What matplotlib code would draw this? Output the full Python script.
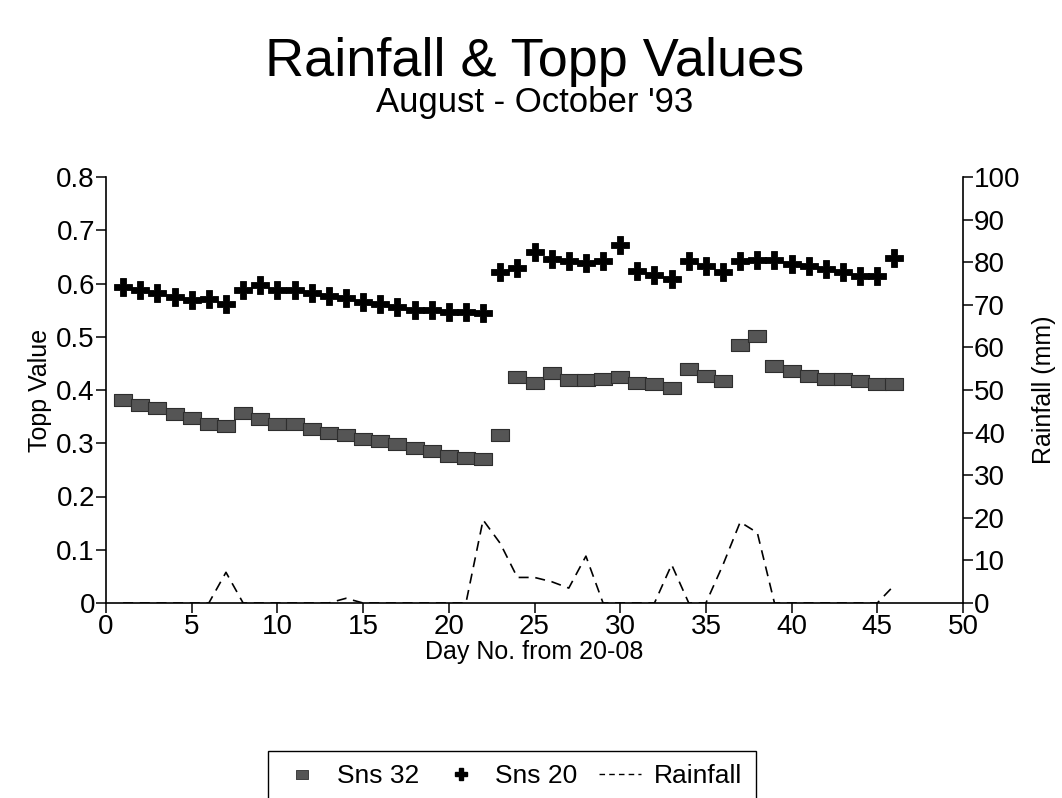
import matplotlib
matplotlib.use("Agg")
import matplotlib.pyplot as plt
from matplotlib.lines import Line2D
from matplotlib.ticker import FuncFormatter

plt.rcParams['font.family'] = ['Liberation Sans', 'DejaVu Sans']

days = list(range(1, 47))

sns32 = [0.382, 0.371, 0.367, 0.355, 0.348, 0.336, 0.333, 0.356, 0.345, 0.337,
         0.337, 0.326, 0.319, 0.315, 0.308, 0.305, 0.298, 0.291, 0.285, 0.276,
         0.273, 0.270, 0.315, 0.424, 0.414, 0.432, 0.418, 0.418, 0.421, 0.425,
         0.414, 0.411, 0.403, 0.439, 0.427, 0.417, 0.484, 0.502, 0.445, 0.435,
         0.427, 0.420, 0.420, 0.416, 0.412, 0.412]

sns20 = [0.594, 0.587, 0.583, 0.575, 0.569, 0.570, 0.561, 0.587, 0.598, 0.587,
         0.587, 0.583, 0.576, 0.573, 0.565, 0.561, 0.555, 0.551, 0.551, 0.547,
         0.547, 0.544, 0.621, 0.629, 0.660, 0.646, 0.642, 0.639, 0.643, 0.672,
         0.623, 0.616, 0.608, 0.643, 0.633, 0.621, 0.643, 0.645, 0.645, 0.636,
         0.633, 0.627, 0.621, 0.614, 0.614, 0.648]

rainfall = [0, 0, 0, 0, 0, 0, 7.2, 0, 0, 0,
            0, 0, 0, 1.1, 0, 0, 0, 0, 0, 0,
            0, 19.5, 14, 6, 6, 5, 3.5, 11, 0, 0,
            0, 0, 9, 0, 0, 9, 19, 16.5, 0, 0,
            0, 0, 0, 0, 0, 4.2]

x_ticks = list(range(0, 51, 5))
topp_ticks = [0, 0.1, 0.2, 0.3, 0.4, 0.5, 0.6, 0.7, 0.8]
rain_ticks = list(range(0, 101, 10))

W, H = 1062, 798
fig = plt.figure(figsize=(W / 100, H / 100), dpi=100)
left, right, top, bottom = 106, 963, 177, 603
ax = fig.add_axes([left / W, 1 - bottom / H, (right - left) / W, (bottom - top) / H])

rect = [(-1, -0.72), (1, -0.72), (1, 0.72), (-1, 0.72), (-1, -0.72)]
ax.plot(days, sns32, linestyle='none', marker=rect, markersize=12.5,
        markerfacecolor='#555555', markeredgecolor='#2e2e2e', markeredgewidth=0.8, zorder=3)
ax.plot(days, sns20, linestyle='none', marker='P', markersize=12.5,
        markerfacecolor='black', markeredgecolor='black', markeredgewidth=0.6, zorder=3)

ax.set_xlim(0, 50)
ax.set_ylim(0, 0.8)
ax.set_xticks(x_ticks)
ax.set_yticks(topp_ticks)
ax.yaxis.set_major_formatter(FuncFormatter(lambda v, p: '0' if v == 0 else f'{v:.1f}'))

ax2 = ax.twinx()
ax2.plot(days, rainfall, color='black', linewidth=1.2, dashes=(6, 4))
ax2.set_ylim(0, 100)
ax2.set_yticks(rain_ticks)

for a in (ax, ax2):
    a.spines['top'].set_visible(False)
    for s in a.spines.values():
        s.set_linewidth(1.2)
    a.tick_params(direction='out', length=7, width=1.1, labelsize=20, pad=1)
ax.spines['right'].set_visible(False)
ax2.spines['left'].set_visible(False)
ax2.spines['bottom'].set_visible(False)

ax.set_xlabel('Day No. from 20-08', fontsize=18, labelpad=0)
ax.set_ylabel('Topp Value', fontsize=18, labelpad=3)
ax2.set_ylabel('Rainfall (mm)', fontsize=18, labelpad=8)

cx = (left + right) / 2 / W
fig.text(cx, 1 - 76 / H, 'Rainfall & Topp Values', fontsize=39, ha='center', va='baseline')
fig.text(cx, 1 - 112 / H, "August - October '93", fontsize=25, ha='center', va='baseline')

handles = [
    Line2D([], [], linestyle='none', marker=rect, markersize=9,
           markerfacecolor='#555555', markeredgecolor='#2e2e2e', markeredgewidth=0.6),
    Line2D([], [], linestyle='none', marker='P', markersize=9,
           markerfacecolor='black', markeredgecolor='black'),
    Line2D([], [], color='black', linewidth=1.0, dashes=(4, 3)),
]
leg = fig.legend(handles, ['Sns 32', 'Sns 20', 'Rainfall'], loc='upper left',
                 bbox_to_anchor=(268 / W, 1 - 751 / H), ncol=3, fontsize=19,
                 frameon=True, fancybox=False, edgecolor='black', framealpha=1,
                 handlelength=1.6, handletextpad=0.5, columnspacing=0.8,
                 borderpad=0.5, borderaxespad=0)
leg.get_frame().set_linewidth(1.0)

fig.savefig('out.png', dpi=100)
